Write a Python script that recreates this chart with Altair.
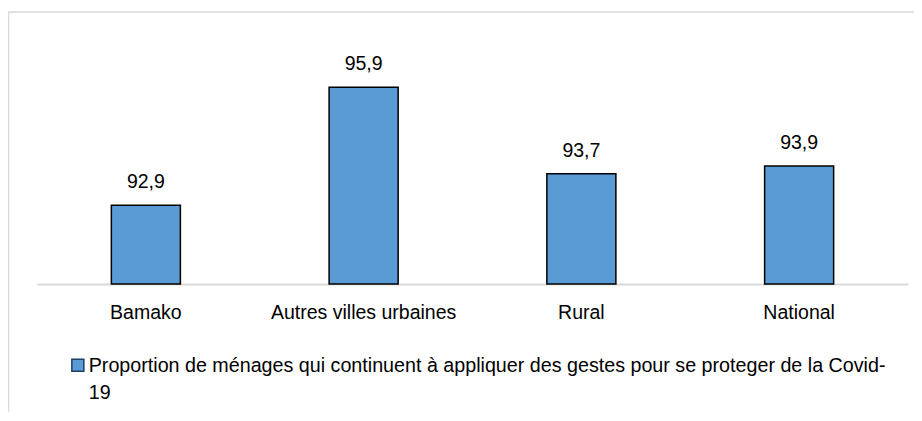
import altair as alt
import pandas as pd

categories = ["Bamako", "Autres villes urbaines", "Rural", "National"]
values = [92.9, 95.9, 93.7, 93.9]
series_name = "Proportion de ménages qui continuent à appliquer des gestes pour se proteger de la Covid-19"

df = pd.DataFrame({"cat": categories, "v": values, "serie": [series_name] * len(categories)})

FONT = "Liberation Sans"
FS = 19.5

x_enc = alt.X(
    "cat:N",
    sort=categories,
    title=None,
    scale=alt.Scale(paddingInner=0.683, paddingOuter=0.3415),
    axis=alt.Axis(
        labelAngle=0,
        labelFont=FONT,
        labelFontSize=FS,
        labelColor="#000000",
        labelPadding=19,
        labelLimit=0,
        ticks=False,
        domainColor="#D9D9D9",
        domainWidth=2,
        grid=False,
    ),
)
y_enc = alt.Y(
    "v:Q",
    title=None,
    scale=alt.Scale(domain=[90.9, 97.0], zero=False, nice=False, clamp=True),
    axis=None,
)

base = alt.Chart(df)

bars = base.mark_bar(stroke="#000000", strokeWidth=1.5).encode(
    x=x_enc,
    y=y_enc,
    color=alt.Color(
        "serie:N",
        scale=alt.Scale(range=["#5B9BD5"]),
        legend=alt.Legend(
            title=None,
            orient="none",
            legendX=31,
            legendY=318,
            padding=0,
            symbolType="M-1,-2.1H1V-0.1H-1Z",
            symbolSize=144,
            symbolStrokeColor="#1F3F66",
            symbolStrokeWidth=1.5,
            labelFont=FONT,
            labelFontSize=19.7,
            labelColor="#000000",
            labelLimit=0,
            labelOffset=1,
            labelBaseline="alphabetic",
            labelExpr="[slice(datum.label, 0, -2), slice(datum.label, -2)]",
        ),
    ),
)

labels = base.transform_calculate(
    txt="replace(format(datum.v, '.1f'), '.', ',')"
).mark_text(
    baseline="alphabetic", dy=-17, font=FONT, fontSize=FS, color="#000000"
).encode(x=alt.X("cat:N", sort=categories), y="v:Q", text="txt:N")

frame = alt.Chart(pd.DataFrame({"a": [0]})).mark_rect(
    fill=None, stroke="#D9D9D9", strokeWidth=1.5
).encode(
    x=alt.value(-28.5), x2=alt.value(900), y=alt.value(-32), y2=alt.value(400)
)

chart = alt.layer(frame, bars, labels).properties(
    width=871,
    height=240,
    background="white",
    autosize=alt.AutoSizeParams(type="none"),
    padding={"left": 29, "top": 36, "right": 6, "bottom": 128},
).configure(
    style={"guide-label": {"lineHeight": 27}}
).configure_view(stroke=None)

chart.save("out.html", embed_options={"renderer": "svg", "actions": False})
